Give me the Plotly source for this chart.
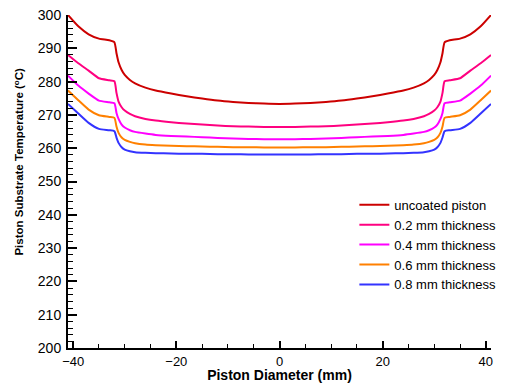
import plotly.graph_objects as go

x = [-41, -39, -37, -35, -33, -32, -31.6, -31.2, -30.6, -30, -29, -28, -26, -24, -21, -18, -15, -12, -9, -6, -3, 0,
     3, 6, 9, 12, 15, 18, 21, 24, 26, 28, 29, 30, 30.6, 31.2, 31.6, 32, 33, 35, 37, 39, 41]

uncoated = [300.0, 296.6, 294.2, 292.9, 292.4, 291.8, 288.5, 285.8, 283.5, 282.0, 280.5, 279.5, 278.2, 277.3, 276.4, 275.6, 274.9, 274.3, 273.9, 273.6, 273.4, 273.3,
            273.4, 273.6, 273.9, 274.3, 274.9, 275.6, 276.4, 277.3, 278.2, 279.5, 280.5, 282.0, 283.5, 285.8, 288.5, 291.8, 292.4, 292.9, 294.2, 296.6, 300.0]
mm02 = [288.0, 285.5, 283.3, 281.0, 280.4, 280.1, 276.6, 274.0, 272.3, 271.3, 270.3, 269.6, 268.8, 268.3, 267.8, 267.4, 267.1, 266.8, 266.6, 266.5, 266.4, 266.4,
        266.4, 266.5, 266.6, 266.8, 267.1, 267.4, 267.8, 268.3, 268.8, 269.6, 270.3, 271.3, 272.3, 274.0, 276.6, 280.1, 280.4, 281.0, 283.3, 285.5, 288.0]
mm04 = [281.8, 278.8, 276.4, 274.3, 273.8, 273.5, 270.6, 268.8, 267.1, 266.2, 265.4, 264.9, 264.4, 264.0, 263.7, 263.5, 263.3, 263.1, 262.9, 262.8, 262.7, 262.7,
        262.7, 262.8, 262.9, 263.1, 263.3, 263.5, 263.7, 264.0, 264.4, 264.9, 265.4, 266.2, 267.1, 268.8, 270.6, 273.5, 273.8, 274.3, 276.4, 278.8, 281.8]
mm06 = [277.3, 274.4, 271.6, 269.9, 269.4, 269.1, 266.5, 264.6, 263.2, 262.5, 261.9, 261.5, 261.1, 260.9, 260.7, 260.6, 260.5, 260.4, 260.3, 260.3, 260.2, 260.2,
        260.2, 260.3, 260.3, 260.4, 260.5, 260.6, 260.7, 260.9, 261.1, 261.5, 261.9, 262.5, 263.2, 264.6, 266.5, 269.1, 269.4, 269.9, 271.6, 274.4, 277.3]
mm08 = [273.3, 270.4, 267.6, 265.8, 265.4, 265.1, 263.2, 261.6, 260.3, 259.6, 259.1, 258.8, 258.6, 258.5, 258.4, 258.3, 258.3, 258.2, 258.2, 258.1, 258.1, 258.1,
        258.1, 258.1, 258.2, 258.2, 258.3, 258.3, 258.4, 258.5, 258.6, 258.8, 259.1, 259.6, 260.3, 261.6, 263.2, 265.1, 265.4, 265.8, 267.6, 270.4, 273.3]

series_names = ["uncoated piston", "0.2 mm thickness", "0.4 mm thickness", "0.6 mm thickness", "0.8 mm thickness"]
series_values = [uncoated, mm02, mm04, mm06, mm08]
colors = ["#cc0000", "#ff0080", "#ff00ff", "#ff8000", "#3333ff"]

x_ticks = [-40, -20, 0, 20, 40]
y_ticks = [200, 210, 220, 230, 240, 250, 260, 270, 280, 290, 300]

x_title = "<b>Piston Diameter (mm)</b>"
y_title = "<b>Piston Substrate Temperature (<sup>o</sup>C)</b>"

fig = go.Figure()
for name, vals, c in zip(series_names, series_values, colors):
    fig.add_trace(go.Scatter(x=x, y=vals, mode="lines", name=name,
                             line=dict(color=c, width=2, shape="spline", smoothing=0.5)))

font_family = "Liberation Sans, Arial, sans-serif"
# the page body adds an 8px offset, so the figure is 8px smaller than the window
fig.update_layout(
    width=508, height=375,
    margin=dict(l=60, r=25, t=7, b=35),
    paper_bgcolor="white", plot_bgcolor="white",
    font=dict(family=font_family, size=14, color="black"),
    showlegend=True,
    legend=dict(x=0.677, y=0.475, xanchor="left", yanchor="top",
                bgcolor="rgba(0,0,0,0)", font=dict(size=13), tracegroupgap=0),
    xaxis=dict(range=[-41, 41], tickvals=x_ticks, ticks="inside", ticklen=7, tickwidth=2,
               tickcolor="black", showline=True, linecolor="black", linewidth=2,
               showgrid=False, zeroline=False, automargin=False, tickfont=dict(size=13),
               ticklabeloverflow="allow",
               minor=dict(dtick=5, tick0=0, ticks="inside", ticklen=4, tickwidth=1, tickcolor="black", showgrid=False),
               title=dict(text=x_title, font=dict(size=14), standoff=9)),
    yaxis=dict(range=[200, 300], tickvals=y_ticks, ticks="inside", ticklen=9, tickwidth=2,
               tickcolor="black", showline=True, linecolor="black", linewidth=2,
               showgrid=False, zeroline=False, automargin=False, tickfont=dict(size=14),
               ticklabelstandoff=2, ticklabeloverflow="allow",
               minor=dict(dtick=2, tick0=200, ticks="inside", ticklen=5, tickwidth=1, tickcolor="black", showgrid=False)),
    annotations=[dict(text=y_title, xref="paper", yref="paper", x=-0.118, y=0.56,
                      xanchor="center", yanchor="middle", textangle=-90, showarrow=False,
                      font=dict(size=11.5, family=font_family, color="black"))],
)

fig.write_html("out.html")
